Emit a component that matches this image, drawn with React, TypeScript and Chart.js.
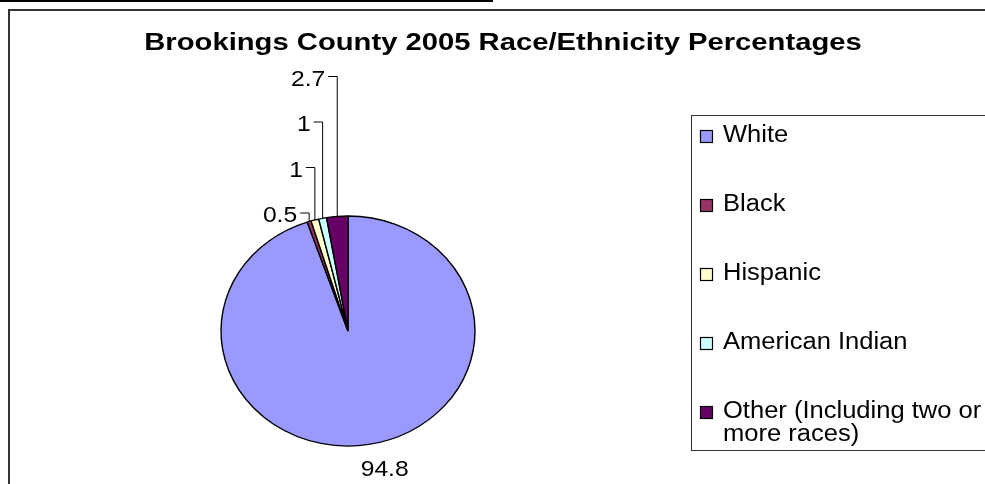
import React, { useEffect, useRef } from "react";
import { Chart, registerables } from "chart.js";

Chart.register(...registerables);

// ---- data ----
const TITLE = "Brookings County 2005 Race/Ethnicity Percentages";
const categories = ["White", "Black", "Hispanic", "American Indian", "Other (Including two or more races)"];
const legendLines = [["White"], ["Black"], ["Hispanic"], ["American Indian"], ["Other (Including two or", "more races)"]];
const percentages = [94.8, 0.5, 1, 1, 2.7];
const sliceColors = ["#9999FF", "#993366", "#FFFFCC", "#CCFFFF", "#660066"];

// ---- layout / style ----
const W = 985;
const H = 484;
const PIE_CX = 348;
const PIE_CY = 331;
const PIE_RX = 127;
const PIE_RY = 115;
const FONT_FAMILY = "'Liberation Sans', Arial, sans-serif";
const TITLE_FONT = `bold 23px ${FONT_FAMILY}`;
const TITLE_SX = 1.27;
const LABEL_FONT = `22px ${FONT_FAMILY}`;
const LABEL_SX = 1.12;
const LEGEND_FONT = `23px ${FONT_FAMILY}`;
const LEGEND_SX = 1.11;
const LABEL_GAP = 45.5;
const LEGEND_STEP = 69;
const LEGEND_LINE = 23;

function stretchText(
  ctx: CanvasRenderingContext2D,
  text: string,
  x: number,
  y: number,
  font: string,
  sx: number,
  align: CanvasTextAlign
) {
  ctx.save();
  ctx.translate(x, y);
  ctx.scale(sx, 1);
  ctx.font = font;
  ctx.textAlign = align;
  ctx.textBaseline = "middle";
  ctx.fillStyle = "#000";
  ctx.fillText(text, 0, 0);
  ctx.restore();
}

const ellipsePlugin = {
  id: "ellipse",
  beforeDatasetsDraw(chart: any) {
    const ctx = chart.ctx as CanvasRenderingContext2D;
    const arc = chart.getDatasetMeta(0).data[0];
    if (!arc) return;
    ctx.save();
    ctx.translate(arc.x, arc.y);
    ctx.scale(1, PIE_RY / PIE_RX);
    ctx.translate(-arc.x, -arc.y);
  },
  afterDatasetsDraw(chart: any) {
    chart.ctx.restore();
  },
};

const decorPlugin = {
  id: "decor",
  afterDraw(chart: any) {
    const ctx = chart.ctx as CanvasRenderingContext2D;
    const sy = PIE_RY / PIE_RX;

    // title
    stretchText(ctx, TITLE, 503, 44, TITLE_FONT, TITLE_SX, "center");

    // data labels with leader lines
    const meta = chart.getDatasetMeta(0);
    meta.data.forEach((arc: any, i: number) => {
      const { x, y, startAngle, endAngle, outerRadius } = arc.getProps(
        ["x", "y", "startAngle", "endAngle", "outerRadius"],
        true
      );
      const mid = (startAngle + endAngle) / 2;
      const ex = x + outerRadius * Math.cos(mid);
      const ey = y + outerRadius * Math.sin(mid) * sy;
      const text = String(percentages[i]);
      if (i === 0) {
        stretchText(ctx, text, ex + 16, ey + 25, LABEL_FONT, LABEL_SX, "center");
      } else {
        const pieTop = y - outerRadius * sy;
        const ly = pieTop - (i - 1) * LABEL_GAP;
        const textRight = ex - 12;
        stretchText(ctx, text, textRight, ly, LABEL_FONT, LABEL_SX, "right");
        ctx.save();
        ctx.strokeStyle = "#000";
        ctx.lineWidth = 1;
        ctx.beginPath();
        ctx.moveTo(textRight + 3, ly - 3);
        ctx.lineTo(ex, ly - 3);
        ctx.lineTo(ex, ey);
        ctx.stroke();
        ctx.restore();
      }
    });

    // legend
    const lx = 691.5;
    const ly0 = 115.5;
    ctx.save();
    ctx.strokeStyle = "#333";
    ctx.lineWidth = 1;
    ctx.strokeRect(lx, ly0, 400, 335);
    ctx.restore();
    const colors = chart.data.datasets[0].backgroundColor as string[];
    legendLines.forEach((lines, i) => {
      const cy = 136 + i * LEGEND_STEP;
      ctx.save();
      ctx.fillStyle = colors[i];
      ctx.fillRect(700, cy - 6, 13, 13);
      ctx.strokeStyle = "#000";
      ctx.lineWidth = 1.2;
      ctx.strokeRect(700.5, cy - 5.5, 12, 12);
      ctx.restore();
      lines.forEach((t, k) => {
        stretchText(ctx, t, 723, cy + k * LEGEND_LINE, LEGEND_FONT, LEGEND_SX, "left");
      });
    });
  },
};

export default function App() {
  const ref = useRef<HTMLCanvasElement | null>(null);
  useEffect(() => {
    if (!ref.current) return;
    const chart = new Chart(ref.current, {
      type: "pie",
      data: {
        labels: categories,
        datasets: [
          {
            data: percentages,
            backgroundColor: sliceColors,
            borderColor: "#000",
            borderWidth: 1.4,
            radius: PIE_RX,
            hoverOffset: 0,
          } as any,
        ],
      },
      options: {
        responsive: false,
        maintainAspectRatio: false,
        animation: false,
        events: [],
        layout: {
          padding: {
            left: PIE_CX - PIE_RX,
            top: PIE_CY - PIE_RX,
            right: W - PIE_CX - PIE_RX,
            bottom: H - PIE_CY - PIE_RX,
          },
        },
        plugins: {
          legend: { display: false },
          title: { display: false },
          tooltip: { enabled: false },
        },
      },
      plugins: [ellipsePlugin, decorPlugin],
    });
    return () => chart.destroy();
  }, []);

  return (
    <div style={{ position: "fixed", left: 0, top: 0, width: W, height: H, background: "#fff", overflow: "hidden" }}>
      <div style={{ position: "absolute", left: 0, top: 0, width: 493, height: 2, background: "#000" }} />
      <div
        style={{
          position: "absolute",
          left: 8,
          top: 9,
          width: W,
          height: H,
          borderLeft: "2px solid #333",
          borderTop: "2px solid #333",
        }}
      />
      <canvas ref={ref} width={W} height={H} style={{ position: "absolute", left: 0, top: 0, display: "block" }} />
    </div>
  );
}
